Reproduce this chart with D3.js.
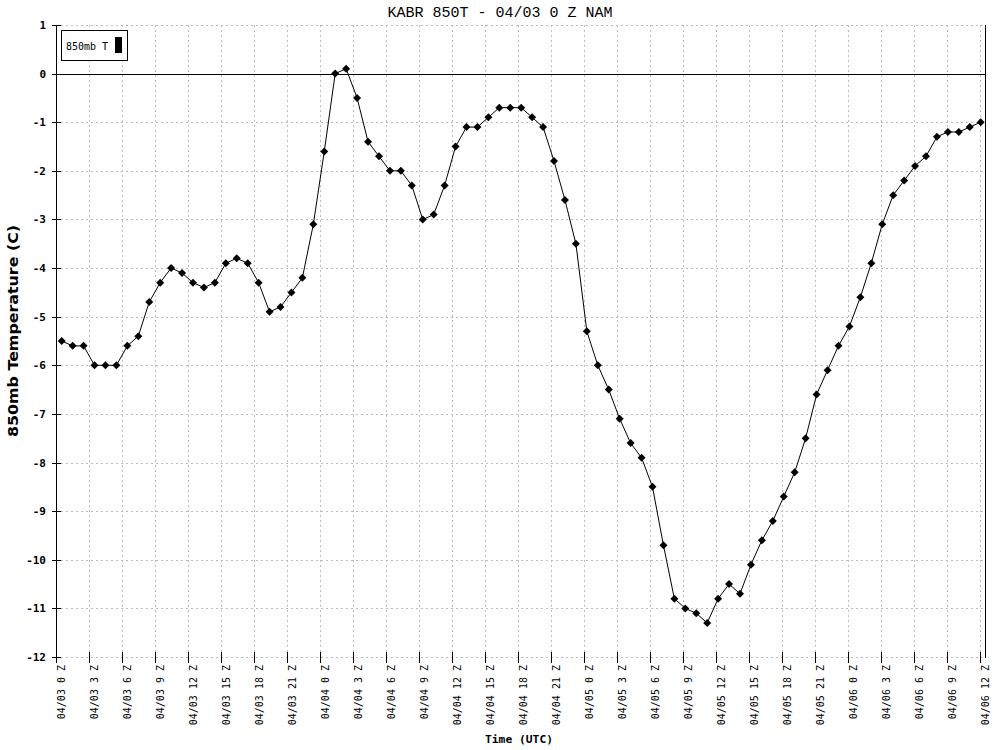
<!DOCTYPE html>
<html>
<head>
<meta charset="utf-8">
<script src="https://cdn.jsdelivr.net/npm/d3@7"></script>
<style>
  html, body { margin: 0; padding: 0; background: #fff; }
  svg { display: block; }
</style>
</head>
<body>
<svg id="chart" width="1000" height="750"></svg>
<script>
// ---- data ----
const title = "KABR 850T - 04/03 0 Z NAM";
const seriesName = "850mb T";
const yLabel = "850mb Temperature (C)";
const xLabel = "Time (UTC)";

// hourly forecast steps (hours from 04/03 0 Z)
const hours = [
  0,1,2,3,4,5,6,7,8,9,10,11,12,13,14,15,16,17,18,19,20,21,22,23,24,25,26,27,28,29,
  30,31,32,33,34,35,36,37,38,39,40,41,42,43,44,45,46,47,48,49,50,51,52,53,54,55,56,57,58,59,
  60,61,62,63,64,65,66,67,68,69,70,71,72,73,74,75,76,77,78,79,80,81,82,83,84
];
const temps = [
  -5.5,-5.6,-5.6,-6.0,-6.0,-6.0,-5.6,-5.4,-4.7,-4.3,
  -4.0,-4.1,-4.3,-4.4,-4.3,-3.9,-3.8,-3.9,-4.3,-4.9,
  -4.8,-4.5,-4.2,-3.1,-1.6, 0.0, 0.1,-0.5,-1.4,-1.7,
  -2.0,-2.0,-2.3,-3.0,-2.9,-2.3,-1.5,-1.1,-1.1,-0.9,
  -0.7,-0.7,-0.7,-0.9,-1.1,-1.8,-2.6,-3.5,-5.3,-6.0,
  -6.5,-7.1,-7.6,-7.9,-8.5,-9.7,-10.8,-11.0,-11.1,-11.3,
  -10.8,-10.5,-10.7,-10.1,-9.6,-9.2,-8.7,-8.2,-7.5,-6.6,
  -6.1,-5.6,-5.2,-4.6,-3.9,-3.1,-2.5,-2.2,-1.9,-1.7,
  -1.3,-1.2,-1.2,-1.1,-1.0
];
const tickHours = [0,3,6,9,12,15,18,21,24,27,30,33,36,39,42,45,48,51,54,57,60,63,66,69,72,75,78,81,84];
const tickLabels = [
  "04/03 0 Z","04/03 3 Z","04/03 6 Z","04/03 9 Z","04/03 12 Z","04/03 15 Z","04/03 18 Z","04/03 21 Z",
  "04/04 0 Z","04/04 3 Z","04/04 6 Z","04/04 9 Z","04/04 12 Z","04/04 15 Z","04/04 18 Z","04/04 21 Z",
  "04/05 0 Z","04/05 3 Z","04/05 6 Z","04/05 9 Z","04/05 12 Z","04/05 15 Z","04/05 18 Z","04/05 21 Z",
  "04/06 0 Z","04/06 3 Z","04/06 6 Z","04/06 9 Z","04/06 12 Z"
];
const yTicks = [1,0,-1,-2,-3,-4,-5,-6,-7,-8,-9,-10,-11,-12];

// ---- layout ----
const svg = d3.select("#chart");
const L = 56, R = 985, T = 25, B = 657;

const xTick = d3.scaleLinear().domain([0, 84]).range([56, 980]);
const xPt = d3.scaleLinear().domain([0, 84]).range([61.7, 980.7]);
const y = d3.scaleLinear().domain([-12, 1]).range([B, T]);

const mono = "'DejaVu Sans Mono', 'Liberation Mono', monospace";
const g = svg.append("g").attr("shape-rendering", "crispEdges");

// horizontal grid
g.selectAll("line.hg").data(yTicks).join("line")
  .attr("x1", L).attr("x2", R)
  .attr("y1", d => Math.round(y(d)) + 0.5).attr("y2", d => Math.round(y(d)) + 0.5)
  .attr("stroke", "#bdbdbd").attr("stroke-dasharray", "2,3");

// vertical grid
g.selectAll("line.vg").data(tickHours.slice(1)).join("line")
  .attr("x1", d => Math.round(xTick(d)) + 0.5).attr("x2", d => Math.round(xTick(d)) + 0.5)
  .attr("y1", T).attr("y2", B)
  .attr("stroke", "#bdbdbd").attr("stroke-dasharray", "2,3");

// zero line
g.append("line")
  .attr("x1", L).attr("x2", R)
  .attr("y1", Math.round(y(0)) + 0.5).attr("y2", Math.round(y(0)) + 0.5)
  .attr("stroke", "#000");

// left axis
g.append("line").attr("x1", L + 0.5).attr("x2", L + 0.5).attr("y1", T).attr("y2", B + 4).attr("stroke", "#000");
// right line
g.append("line").attr("x1", R + 0.5).attr("x2", R + 0.5).attr("y1", T).attr("y2", B + 1).attr("stroke", "#000");

// y ticks (crossing)
g.selectAll("line.yt").data(yTicks).join("line")
  .attr("x1", L - 4).attr("x2", L + 5)
  .attr("y1", d => Math.round(y(d)) + 0.5).attr("y2", d => Math.round(y(d)) + 0.5)
  .attr("stroke", "#000");

// x ticks (crossing)
g.selectAll("line.xt").data(tickHours).join("line")
  .attr("x1", d => Math.round(xTick(d)) + 0.5).attr("x2", d => Math.round(xTick(d)) + 0.5)
  .attr("y1", B - 5).attr("y2", B + 6)
  .attr("stroke", "#000");

// y tick labels
svg.selectAll("text.yl").data(yTicks).join("text")
  .attr("x", 46).attr("y", d => y(d) + 4)
  .attr("text-anchor", "end")
  .attr("font-family", mono).attr("font-weight", "bold").attr("font-size", 11)
  .text(d => d);

// x tick labels (rotated)
svg.selectAll("text.xl").data(tickHours).join("text")
  .attr("transform", (d) => `translate(${xTick(d) + 9},${B + 8}) rotate(-90)`)
  .attr("text-anchor", "end")
  .attr("font-family", mono).attr("font-size", 10)
  .text((d, i) => tickLabels[i]);

// series line
const line = d3.line().x((d, i) => xPt(hours[i])).y(d => y(d));
svg.append("path").datum(temps)
  .attr("d", line).attr("fill", "none").attr("stroke", "#000").attr("stroke-width", 1);

// diamond markers
const diamond = { draw(ctx, size) { const r = Math.sqrt(size) / 2; ctx.moveTo(0, -r); ctx.lineTo(r, 0); ctx.lineTo(0, r); ctx.lineTo(-r, 0); ctx.closePath(); } };
svg.selectAll("path.mk").data(temps).join("path")
  .attr("transform", (d, i) => `translate(${xPt(hours[i])},${y(d)})`)
  .attr("d", d3.symbol().type(diamond).size(64))
  .attr("fill", "#000");

// title
svg.append("text").attr("x", 500).attr("y", 17).attr("text-anchor", "middle")
  .attr("font-family", "'Liberation Mono', monospace").attr("font-size", 15)
  .text(title);

// y label
svg.append("text")
  .attr("transform", `translate(18,331) rotate(-90)`)
  .attr("text-anchor", "middle")
  .attr("font-family", "'DejaVu Sans', sans-serif").attr("font-weight", "bold").attr("font-size", 14)
  .attr("textLength", 212).attr("lengthAdjust", "spacingAndGlyphs")
  .text(yLabel);

// x label
svg.append("text").attr("x", 519).attr("y", 743).attr("text-anchor", "middle")
  .attr("font-family", mono).attr("font-weight", "bold").attr("font-size", 11)
  .attr("textLength", 68).attr("lengthAdjust", "spacingAndGlyphs")
  .text(xLabel);

// legend
const lg = svg.append("g").attr("shape-rendering", "crispEdges");
lg.append("rect").attr("x", 61.5).attr("y", 30.5).attr("width", 66).attr("height", 30)
  .attr("fill", "#fff").attr("stroke", "#000");
svg.append("text").attr("x", 66).attr("y", 50)
  .attr("font-family", mono).attr("font-size", 10)
  .attr("textLength", 42).attr("lengthAdjust", "spacingAndGlyphs")
  .text(seriesName);
lg.append("rect").attr("x", 115).attr("y", 37).attr("width", 7).attr("height", 16).attr("fill", "#000");
</script>
</body>
</html>
